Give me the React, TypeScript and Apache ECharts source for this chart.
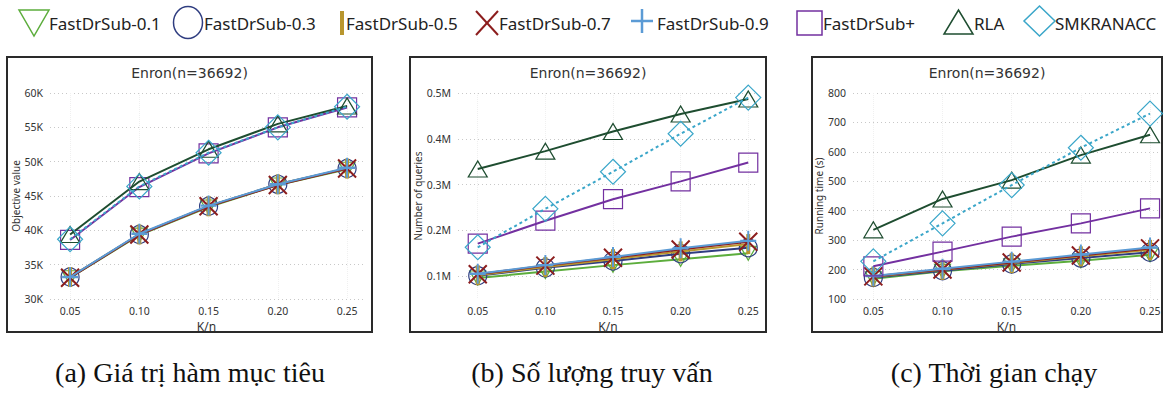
import React, { useEffect, useRef } from "react";
import * as echarts from "echarts";

// ---- data ----
const kn = [0.05, 0.1, 0.15, 0.2, 0.25];
const seriesNames = ["FastDrSub-0.1", "FastDrSub-0.3", "FastDrSub-0.5", "FastDrSub-0.7", "FastDrSub-0.9", "FastDrSub+", "RLA", "SMKRANACC"];

// (a) objective value
const obj01 = [33100, 39300, 43400, 46600, 48900];
const obj03 = [33200, 39400, 43500, 46700, 49000];
const obj05 = [33200, 39400, 43500, 46700, 49000];
const obj07 = [33100, 39400, 43500, 46600, 49000];
const obj09 = [33200, 39500, 43600, 46700, 49100];
const objPlus = [38600, 46300, 51200, 55000, 57900];
const objRLA = [39400, 47100, 51800, 55500, 58100];
const objSMK = [38700, 46400, 51300, 55000, 58000];

// (b) number of queries
const q01 = [96000, 110000, 124000, 137000, 150000];
const q03 = [101000, 118000, 133000, 149000, 162000];
const q05 = [102000, 120000, 137000, 154000, 170000];
const q07 = [104000, 123000, 140000, 158000, 175000];
const q09 = [105000, 124000, 142000, 161000, 177000];
const qPlus = [171000, 221000, 268000, 307000, 348000];
const qRLA = [334000, 373000, 416000, 454000, 487000];
const qSMK = [163000, 247000, 328000, 411000, 490000];

// (c) running time (s)
const t01 = [169, 194, 213, 230, 250];
const t03 = [173, 196, 219, 239, 259];
const t05 = [176, 199, 222, 245, 267];
const t07 = [177, 200, 224, 248, 272];
const t09 = [178, 203, 227, 251, 275];
const tPlus = [211, 261, 312, 357, 408];
const tRLA = [335, 440, 504, 589, 658];
const tSMK = [228, 357, 487, 614, 730];

const xTicks = [0.05, 0.1, 0.15, 0.2, 0.25];
const yTicksA = [30000, 35000, 40000, 45000, 50000, 55000, 60000];
const yTicksB = [100000, 200000, 300000, 400000, 500000];
const yTicksC = [100, 200, 300, 400, 500, 600, 700, 800];

const panelTitle = "Enron(n=36692)";
const yNames = ["Objective value", "Number of queries", "Running time (s)"];
const xName = "K/n";
const captions = ["(a) Giá trị hàm mục tiêu", "(b) Số lượng truy vấn", "(c) Thời gian chạy"];

// ---- styles ----
const styles = [
  { color: "#5cad3c", symbol: "triangle", rotate: 180, size: [16, 14], fill: false, bw: 1.2 },
  { color: "#2f3d80", symbol: "circle", size: 18, fill: false, bw: 1.2 },
  { color: "#b8962e", symbol: "rect", size: [4, 20], fill: true, bw: 0 },
  { color: "#8c1d1d", symbol: "path://M0,0L20,20M20,0L0,20", size: 18, fill: false, bw: 2 },
  { color: "#5b9bd5", symbol: "path://M10,0L10,20M0,10L20,10", size: [16, 20], fill: false, bw: 2.2 },
  { color: "#7330a0", symbol: "rect", size: 19, fill: false, bw: 1.2 },
  { color: "#1e4d30", symbol: "triangle", size: [19, 16], fill: false, bw: 1.2 },
  { color: "#3aa6c9", symbol: "diamond", size: 25, fill: false, bw: 1.2, dashed: true },
];

const grids = [
  { left: 50, width: 313, top: 93, height: 206, xmin: 0.0355, xmax: 0.2615 },
  { left: 458, width: 300, top: 93, height: 206, xmin: 0.0354, xmax: 0.2572 },
  { left: 853, width: 307, top: 93, height: 206, xmin: 0.0353, xmax: 0.2572 },
];
const boxes = [
  { x: 7, y: 57, w: 365, h: 275 },
  { x: 410, y: 57, w: 356, h: 275 },
  { x: 812, y: 57, w: 350, h: 275 },
];
const yNameGaps = [29, 35, 28];
const captionCenters = [190, 592, 994];

const tickFont = { fontFamily: "Noto Sans", fontSize: 10.5, color: "#333" };

export default function App() {
  const ref = useRef<HTMLDivElement>(null);
  useEffect(() => {
    if (!ref.current) return;
    const chart = echarts.init(ref.current, undefined, { renderer: "svg" });
    const panels = [
      [obj01, obj03, obj05, obj07, obj09, objPlus, objRLA, objSMK],
      [q01, q03, q05, q07, q09, qPlus, qRLA, qSMK],
      [t01, t03, t05, t07, t09, tPlus, tRLA, tSMK],
    ];
    const series: any[] = [];
    panels.forEach((arrs, gi) => {
      arrs.forEach((vals, si) => {
        const s = styles[si];
        series.push({
          type: "line",
          name: seriesNames[si],
          xAxisIndex: gi,
          yAxisIndex: gi,
          data: vals.map((v, i) => [kn[i], v]),
          symbol: s.symbol,
          symbolSize: s.size,
          symbolRotate: (s as any).rotate || 0,
          showAllSymbol: true,
          lineStyle: { color: s.color, width: 2, type: (s as any).dashed ? [3, 3] : "solid" },
          itemStyle: {
            color: s.fill ? s.color : "rgba(0,0,0,0)",
            borderColor: s.color,
            borderWidth: s.bw,
          },
          emphasis: { disabled: true },
          z: 2 + si,
        });
      });
    });

    const yCfg = [
      { min: 30000, max: 60000, interval: 5000, ticks: yTicksA, fmt: (v: number) => v / 1000 + "K" },
      { min: 50000, max: 500000, interval: undefined, ticks: yTicksB, fmt: (v: number) => (v / 1e6).toFixed(1) + "M" },
      { min: 100, max: 800, interval: 100, ticks: yTicksC, fmt: (v: number) => String(v) },
    ];

    const graphic: any[] = [];
    boxes.forEach((b) => {
      graphic.push({
        type: "rect",
        shape: { x: b.x, y: b.y, width: b.w, height: b.h },
        style: { fill: "none", stroke: "#2a2a2a", lineWidth: 2 },
        silent: true,
      });
      graphic.push({
        type: "text",
        x: b.x + b.w / 2,
        y: 72.5,
        style: {
          text: panelTitle,
          fontFamily: "DejaVu Sans",
          fontSize: 14,
          fill: "#333",
          align: "center",
          verticalAlign: "middle",
          textAlign: "center",
          textVerticalAlign: "middle",
        },
      });
    });
    captions.forEach((c, i) => {
      graphic.push({
        type: "text",
        x: captionCenters[i],
        y: 372,
        style: {
          text: c,
          fontFamily: "Liberation Serif",
          fontSize: 28,
          fill: "#111",
          align: "center",
          verticalAlign: "middle",
          textAlign: "center",
          textVerticalAlign: "middle",
        },
      });
    });

    // legend
    const ly = 22;
    const legendTextX = [49, 204, 346, 499, 657, 823, 974, 1055];
    const lc = styles.map((s) => s.color);
    graphic.push({ type: "polygon", shape: { points: [[19, 10], [49, 10], [34, 36]] }, style: { fill: "none", stroke: lc[0], lineWidth: 1.5 } });
    graphic.push({ type: "ellipse", shape: { cx: 188, cy: ly + 0.5, rx: 14.5, ry: 16 }, style: { fill: "none", stroke: lc[1], lineWidth: 1.5 } });
    graphic.push({ type: "rect", shape: { x: 340, y: 11, width: 4, height: 24 }, style: { fill: lc[2] } });
    graphic.push({ type: "line", shape: { x1: 476, y1: 11, x2: 498, y2: 35 }, style: { stroke: lc[3], lineWidth: 2 } });
    graphic.push({ type: "line", shape: { x1: 498, y1: 11, x2: 476, y2: 35 }, style: { stroke: lc[3], lineWidth: 2 } });
    graphic.push({ type: "line", shape: { x1: 631, y1: 21, x2: 653, y2: 21 }, style: { stroke: lc[4], lineWidth: 2.5 } });
    graphic.push({ type: "line", shape: { x1: 642, y1: 9, x2: 642, y2: 33 }, style: { stroke: lc[4], lineWidth: 2.5 } });
    graphic.push({ type: "rect", shape: { x: 797, y: 11, width: 25, height: 24 }, style: { fill: "none", stroke: lc[5], lineWidth: 1.5 } });
    graphic.push({ type: "polygon", shape: { points: [[944, 34], [973, 34], [958.5, 10]] }, style: { fill: "none", stroke: lc[6], lineWidth: 1.5 } });
    graphic.push({ type: "polygon", shape: { points: [[1039.5, 6], [1055, 21], [1039.5, 36], [1024, 21]] }, style: { fill: "none", stroke: lc[7], lineWidth: 1.5 } });
    seriesNames.forEach((n, i) => {
      graphic.push({
        type: "text",
        x: legendTextX[i],
        y: 23.5,
        style: {
          text: n,
          fontFamily: "Noto Sans",
          fontSize: 17,
          fill: "#222",
          align: "left",
          verticalAlign: "middle",
          textAlign: "left",
          textVerticalAlign: "middle",
        },
      });
    });

    chart.setOption({
      animation: false,
      grid: grids.map((g) => ({ left: g.left, width: g.width, top: g.top, height: g.height, containLabel: false })),
      xAxis: grids.map((g, i) => ({
        type: "value",
        gridIndex: i,
        min: g.xmin,
        max: g.xmax,
        name: xName,
        nameLocation: "middle",
        nameGap: 19,
        nameTextStyle: { fontFamily: "Noto Sans", fontSize: 12, color: "#333", verticalAlign: "top" },
        axisLine: { show: false },
        axisTick: { show: false, customValues: xTicks },
        axisLabel: { ...tickFont, customValues: xTicks, margin: 6, formatter: (v: number) => v.toFixed(2) },
        splitLine: { show: true, lineStyle: { color: "#f0f0f0", type: "dotted", width: 1 } },
      })),
      yAxis: yCfg.map((c, i) => ({
        type: "value",
        gridIndex: i,
        min: c.min,
        max: c.max,
        ...(c.interval ? { interval: c.interval } : {}),
        name: yNames[i],
        nameLocation: "middle",
        nameGap: yNameGaps[i],
        nameTextStyle: { fontFamily: "Noto Sans", fontSize: 10, color: "#333" },
        axisLine: { show: false },
        axisTick: { show: false, customValues: c.ticks },
        axisLabel: { ...tickFont, customValues: c.ticks, margin: 7, formatter: c.fmt },
        splitLine: { show: true, lineStyle: { color: "#c8c8c8", type: [1, 3], width: 1 } },
      })),
      series,
      graphic: { elements: graphic },
    });
    return () => chart.dispose();
  }, []);
  return <div ref={ref} style={{ position: "fixed", left: 0, top: 0, width: 1176, height: 394, background: "#fff" }} />;
}
